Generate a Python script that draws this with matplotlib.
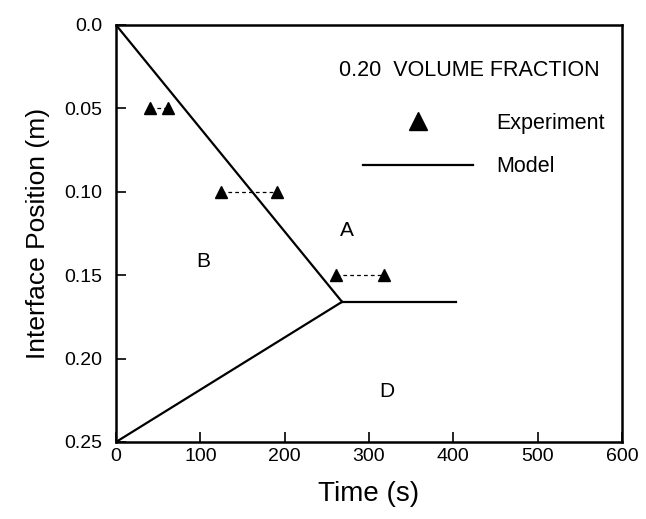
import matplotlib.pyplot as plt
import numpy as np

plt.rcParams['font.family'] = ['Liberation Sans', 'DejaVu Sans']

# experiment: interface position, lower and upper time readings
exp_pos = [0.05, 0.10, 0.15]
exp_t1 = [40, 125, 261]
exp_t2 = [62, 191, 318]

# model interfaces
model_upper_t = [0, 268]
model_upper_y = [0.0, 0.166]
model_lower_t = [0, 268]
model_lower_y = [0.25, 0.166]
model_flat_t = [268, 403]
model_flat_y = [0.166, 0.166]

regions = ["A", "B", "D"]
region_t = [274, 103, 321]
region_y = [0.123, 0.142, 0.2195]

fig = plt.figure(figsize=(6.46, 5.19), dpi=100)
ax = fig.add_axes([0.1796, 0.1484, 0.7833, 0.8035])

ax.plot(model_upper_t, model_upper_y, color="k", lw=1.6, label="Model")
ax.plot(model_lower_t, model_lower_y, color="k", lw=1.6)
ax.plot(model_flat_t, model_flat_y, color="k", lw=1.6)

for y, a, b in zip(exp_pos, exp_t1, exp_t2):
    ax.plot([a, b], [y, y], color="k", ls=(0, (3, 2.5)), lw=0.9)
ax.plot(exp_t1 + exp_t2, exp_pos + exp_pos, ls="none", marker="^",
        color="k", ms=9, label="Experiment")

for name, t, y in zip(regions, region_t, region_y):
    ax.text(t, y, name, fontsize=15, ha="center", va="center")

ax.text(0.698, 0.89, "0.20  VOLUME FRACTION", transform=ax.transAxes,
        fontsize=15.5, ha="center", va="center")

h, l = ax.get_legend_handles_labels()
ax.legend(h[::-1], l[::-1], loc="upper left", bbox_to_anchor=(0.488, 0.79),
          frameon=False, fontsize=15.5, handlelength=5.1, handletextpad=1.1,
          labelspacing=1.05, markerscale=1.5, borderpad=0, borderaxespad=0)

ax.set_xlim(0, 600)
ax.set_ylim(0.25, 0.0)
ax.set_xticks([0, 100, 200, 300, 400, 500, 600])
ax.set_yticks([0.0, 0.05, 0.10, 0.15, 0.20, 0.25])
ax.set_yticklabels(["0.0", "0.05", "0.10", "0.15", "0.20", "0.25"])
ax.tick_params(direction="in", length=7, width=1.2, labelsize=14)
ax.tick_params(axis="x", pad=4)
ax.tick_params(axis="y", pad=10)
for s in ax.spines.values():
    s.set_linewidth(1.8)

ax.set_xlabel("Time (s)", fontsize=20, labelpad=12)
ax.set_ylabel("Interface Position (m)", fontsize=19, labelpad=10)

fig.savefig("out.png", dpi=100)
